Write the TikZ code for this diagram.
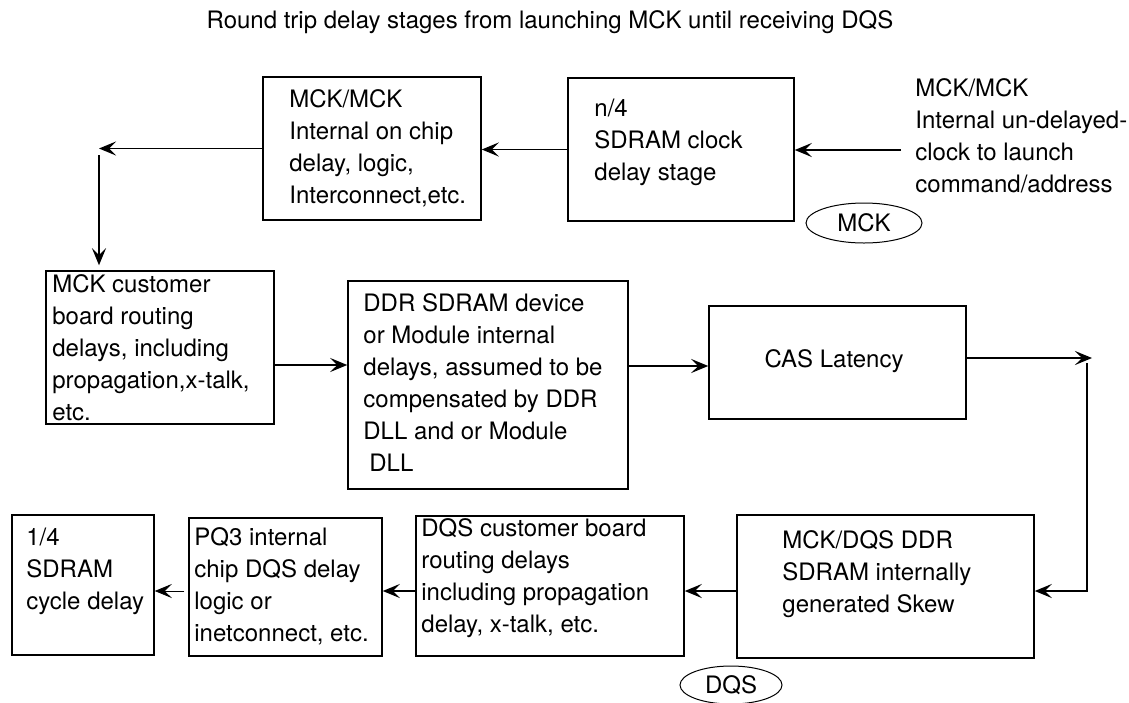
\documentclass[tikz,border=0pt]{standalone}
\usepackage{fontspec}
\setmainfont{TeX Gyre Heros}
\usetikzlibrary{arrows.meta,shapes.geometric}

\tikzset{
  stage/.style={draw, line width=0.75pt, inner sep=0pt},
  blurb/.style={inner sep=0pt, anchor=north west, align=left, font=\fontsize{12}{16}\selectfont},
  sig/.style={draw, ellipse, line width=0.5pt, inner sep=0pt, font=\fontsize{12}{14}\selectfont},
  flow/.style={-{Stealth[length=8.5pt, width=7pt, inset=3.5pt]}, line width=0.75pt},
}

\begin{document}
\begin{tikzpicture}[x=0.5pt, y=-0.5pt]
  \useasboundingbox (0,0) rectangle (1129,702);

  \node[inner sep=0pt, anchor=north, font=\fontsize{12}{14}\selectfont] (title) at (550,10)
    {Round trip delay stages from launching MCK until receiving DQS};

  % stage boxes, top row right to left, then middle and bottom rows
  \node[stage, minimum width=109pt, minimum height=71.5pt] (chip) at (372,148.5) {};
  \node[stage, minimum width=113pt, minimum height=71.5pt] (nstage) at (681,149.5) {};
  \node[stage, minimum width=114pt, minimum height=76.5pt] (mckboard) at (160,347.5) {};
  \node[stage, minimum width=140pt, minimum height=104pt] (ddrdev) at (488,385) {};
  \node[stage, minimum width=128.5pt, minimum height=56.5pt] (cas) at (837.5,362.5) {};
  \node[stage, minimum width=148.5pt, minimum height=71.5pt] (skew) at (885.5,586.5) {};
  \node[stage, minimum width=134pt, minimum height=70pt] (dqsboard) at (550,586) {};
  \node[stage, minimum width=96.5pt, minimum height=69pt] (pqchip) at (285.5,587) {};
  \node[stage, minimum width=71pt, minimum height=70pt] (cycle) at (83,585) {};

  \node[blurb] (chiptxt) at (289,89) {MCK/MCK\\Internal on chip\\delay, logic,\\Interconnect,etc.};
  \node[blurb] (nstagetxt) at (594,99) {n/4\\SDRAM clock\\delay stage};
  \node[blurb] (launch) at (915,78) {MCK/MCK\\Internal un-delayed-\\clock to launch\\command/address};
  \node[blurb] (mckboardtxt) at (52,274) {MCK customer\\board routing\\delays, including\\propagation,x-talk,\\etc.};
  \node[blurb] (ddrdevtxt) at (363,293) {DDR SDRAM device\\or Module internal\\delays, assumed to be\\compensated by DDR\\DLL and or Module\\\hspace*{3pt}DLL};
  \node[blurb, anchor=north] (castxt) at (834,349) {CAS Latency};
  \node[blurb] (skewtxt) at (782,530) {MCK/DQS DDR\\SDRAM internally\\generated Skew};
  \node[blurb] (dqsboardtxt) at (421,518) {DQS customer board\\routing delays\\including propagation\\delay, x-talk, etc.};
  \node[blurb] (pqchiptxt) at (194,527) {PQ3 internal\\chip DQS delay\\logic or\\inetconnect, etc.};
  \node[blurb] (cycletxt) at (26,528) {1/4\\SDRAM\\cycle delay};

  \node[sig, minimum width=58pt, minimum height=20pt] (mck) at (864,223) {MCK};
  \node[sig, minimum width=51pt, minimum height=19pt] (dqs) at (731,685) {DQS};

  \coordinate (feed) at (901,150);
  \coordinate (bend) at (99,150);
  \coordinate (turn) at (1087,358);
  \coordinate (low) at (0,591);

  \draw[flow] (feed) -- (feed -| nstage.east);
  \draw[flow] (nstage.west) -- (nstage.west -| chip.east);
  \draw[flow] (chip.west) -- (chip.west -| bend);
  \draw[flow, shorten >=2.5pt] ([yshift=-2.5pt]bend) -- (bend |- mckboard.north);
  \draw[flow] ([yshift=-8.75pt]mckboard.east) coordinate (c1) -- (c1 -| ddrdev.west);
  \draw[flow] ([yshift=-1.75pt]cas.west -| ddrdev.east) -- ([yshift=-1.75pt]cas.west);
  \draw[flow] (cas.east |- turn) -- ([xshift=2.5pt]turn);
  \draw[flow] ([yshift=-2.5pt]turn) |- (skew.east |- low);
  \draw[flow] (skew.west |- low) -- (dqsboard.east |- low);
  \draw[flow] (dqsboard.west |- low) -- (pqchip.east |- low);
  \draw[flow, line width=0.4pt] ([xshift=-2pt]pqchip.west |- low) -- (cycle.east |- low);
\end{tikzpicture}
\end{document}
